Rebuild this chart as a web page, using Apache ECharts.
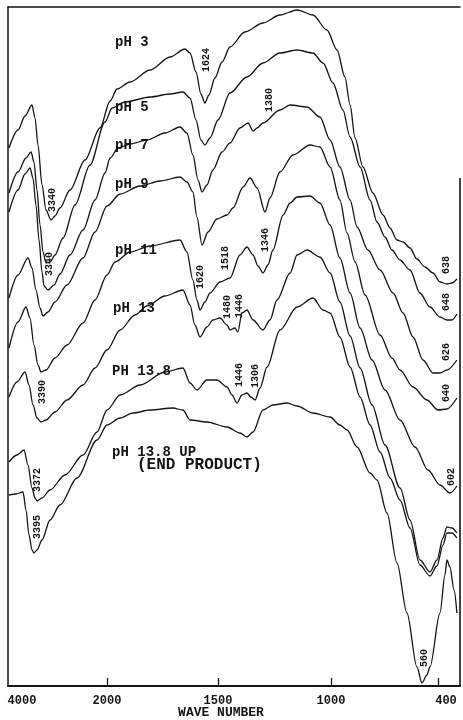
<!DOCTYPE html>
<html>
<head>
<meta charset="utf-8">
<script src="https://cdn.jsdelivr.net/npm/echarts@6/dist/echarts.min.js"></script>
<style>
  html, body { margin: 0; padding: 0; background: #fff; }
  #c { width: 463px; height: 720px; }
</style>
</head>
<body>
<div id="c"></div>
<script>
// IR spectra of the product at increasing pH, stacked with vertical offsets.
// x: wave number (cm-1); y: relative transmittance (offset units, no scale shown).

const TICKS = [4000, 2000, 1500, 1000, 400];
const TICK_MARKS = [2000, 1500, 1000, 400];

const W_PH3 = [4306,4094,3929,3765,3694,3624,3529,3435,3318,3224,3106,2871,2518,2165,1986,1955,1896,1806,1716,1649,1626,1599,1577,1559,1541,1514,1482,1447,1381,1301,1226,1150,1080,1018,966,922,893,865,821,765,708,669,630,596,557,518,473,428,389,350,322,294];
const T_PH3 = [538,556,570,581,568,541,501,476,466,470,478,496,526,558,585,597,604,616,629,637,633,614,592,583,591,608,624,639,654,663,671,676,671,656,636,609,581,548,519,493,471,458,446,444,438,427,419,413,404,402,403,407];

const W_PH5 = [4306,4094,3906,3788,3718,3647,3576,3506,3435,3341,3224,3035,2753,2400,2047,1977,1919,1806,1716,1658,1626,1599,1577,1559,1536,1500,1447,1372,1301,1226,1150,1080,1035,989,933,893,837,781,742,697,658,613,557,501,445,389,350,322,294];
const T_PH5 = [493,514,528,534,524,496,461,434,423,424,431,448,481,521,564,578,584,589,592,594,588,566,546,541,548,566,593,609,623,633,636,633,623,603,576,549,519,486,464,449,436,426,416,393,379,369,366,366,372];

const W_PH7 = [4306,4094,3929,3812,3741,3671,3600,3529,3482,3388,3247,3106,2871,2565,2282,2047,1986,1950,1896,1820,1739,1671,1640,1613,1590,1572,1550,1523,1482,1447,1403,1367,1345,1327,1301,1226,1181,1106,1049,1004,950,893,854,793,725,652,596,540,484,428,389,350,294];
const T_PH7 = [474,496,512,518,508,481,446,414,400,396,401,412,431,456,486,513,528,538,542,546,553,559,553,531,506,494,501,516,534,543,558,563,555,558,563,576,581,579,569,546,519,486,459,436,416,393,373,349,326,313,313,316,326];

const W_PH9 = [4306,4094,3859,3765,3671,3576,3506,3388,3224,2941,2565,2282,2000,1941,1851,1761,1671,1640,1613,1595,1572,1545,1505,1460,1434,1389,1358,1327,1292,1270,1226,1168,1093,1049,1004,950,910,865,809,725,658,613,540,462,400,350,294];
const T_PH9 = [388,411,428,418,396,378,370,374,384,401,428,454,480,492,500,505,509,504,494,469,441,454,467,471,478,499,508,498,474,488,514,531,541,539,519,486,453,424,391,351,328,316,299,286,276,277,288];

const W_PH11 = [4306,4094,3906,3812,3718,3624,3553,3435,3224,2941,2565,2282,2000,1964,1896,1806,1671,1640,1613,1595,1581,1559,1536,1491,1447,1403,1372,1345,1323,1301,1279,1257,1212,1181,1150,1093,1049,1004,950,893,837,770,697,613,529,456,389,333,294];
const T_PH11 = [338,364,379,368,341,321,314,316,328,341,363,386,411,424,434,440,446,434,406,386,376,384,393,404,408,431,439,431,420,413,421,436,471,483,489,490,483,461,428,393,358,326,296,266,239,216,201,193,200];

const W_PH13 = [4306,4118,3929,3835,3741,3647,3553,3435,3224,2941,2565,2282,2000,1941,1874,1820,1739,1658,1626,1604,1581,1550,1523,1491,1460,1447,1425,1412,1394,1372,1345,1301,1270,1239,1181,1150,1106,1049,1004,950,893,837,770,697,613,557,501,445,406,372,350,322,294];
const T_PH13 = [289,304,314,301,281,268,264,266,274,286,301,318,336,356,371,380,390,396,381,361,349,359,366,368,361,356,358,354,373,376,366,356,366,386,413,431,436,429,413,384,350,318,281,241,198,166,126,114,126,148,159,158,153];

const W_PH138 = [4306,4118,3953,3859,3765,3694,3647,3529,3341,2988,2565,2235,2000,1941,1851,1739,1658,1626,1595,1550,1505,1460,1438,1416,1394,1372,1354,1336,1314,1283,1226,1150,1080,1035,1004,950,893,837,781,725,669,613,557,501,445,406,372,350,322,294];
const T_PH138 = [224,231,236,221,198,188,185,188,196,211,231,254,276,291,301,314,318,303,296,306,306,299,291,283,291,293,289,286,298,319,356,379,388,376,373,349,319,289,261,234,208,186,158,121,110,120,141,153,153,148];

const W_END = [4306,4141,3976,3906,3835,3765,3718,3647,3529,3341,3106,2706,2235,2000,1941,1883,1806,1703,1658,1626,1550,1460,1403,1372,1345,1301,1257,1195,1150,1080,1004,950,910,854,781,742,686,630,574,518,490,462,445,389,361,350,333,310,294];
const T_END = [191,192,194,176,151,136,133,136,146,166,181,208,246,261,268,273,276,278,276,266,264,259,253,249,254,276,281,283,280,273,269,261,256,239,213,206,173,123,73,19,3,11,19,73,111,126,119,96,73];

const CURVES = [
  [W_PH3, T_PH3], [W_PH5, T_PH5], [W_PH7, T_PH7], [W_PH9, T_PH9],
  [W_PH11, T_PH11], [W_PH13, T_PH13], [W_PH138, T_PH138], [W_END, T_END]
];

// The chart paper uses a different scale in each wave-number band;
// map wave numbers onto a piecewise-linear plotting coordinate.
const W_KNOTS = [4000, 2000, 1500, 1000, 400];
const U_KNOTS = [14, 99, 210, 323, 430];
function toU(w) {
  let i = 0;
  if (w <= W_KNOTS[W_KNOTS.length - 1]) i = W_KNOTS.length - 2;
  else {
    while (i < W_KNOTS.length - 2 && w < W_KNOTS[i + 1]) i++;
  }
  const w0 = W_KNOTS[i], w1 = W_KNOTS[i + 1], u0 = U_KNOTS[i], u1 = U_KNOTS[i + 1];
  return u0 + (w - w0) * (u1 - u0) / (w1 - w0);
}
const U_MAX = 452;
const T_MAX = 679;

// Curve captions and band annotations, placed in (wave number, transmittance) space.
const CAPTIONS = [
  ['pH 3', 1964, 644], ['pH 5', 1964, 579], ['pH 7', 1964, 541], ['pH 9', 1964, 502],
  ['pH 11', 1964, 436], ['pH 13', 1973, 378], ['PH 13.8', 1977, 315],
  ['pH 13.8 UP', 1977, 234]
];
const BANDS = [
  ['3340', 3294, 486], ['3340', 3365, 422], ['3390', 3529, 294], ['3372', 3647, 206],
  ['3395', 3647, 159], ['1624', 1550, 626], ['1380', 1274, 586], ['1620', 1577, 409],
  ['1518', 1465, 428], ['1346', 1288, 446], ['1480', 1460, 379], ['1446', 1403, 380],
  ['1446', 1407, 311], ['1306', 1332, 310], ['638', 350, 421], ['648', 350, 384],
  ['626', 350, 334], ['640', 350, 293], ['602', 322, 209], ['560', 473, 28]
];

const INK = '#141414';

const series = CURVES.map(([ws, ts]) => ({
  type: 'line',
  data: ws.map((w, i) => [toU(w), ts[i]]),
  showSymbol: false,
  smooth: 0.3,
  smoothMonotone: 'x',
  silent: true,
  lineStyle: { color: INK, width: 1.3 },
  animation: false
}));

function tickLabel(v) {
  for (const t of TICKS) {
    if (Math.abs(toU(t) - v) < 0.01) return t === 400 ? '{s|400}' : String(t);
  }
  return '';
}

const option = {
  animation: false,
  backgroundColor: '#ffffff',
  grid: { left: 8, top: 7, width: U_MAX, height: T_MAX, containLabel: false, outerBoundsMode: 'none' },
  xAxis: [{
    type: 'value', min: 0, max: U_MAX, position: 'bottom',
    axisLine: { show: true, lineStyle: { color: INK, width: 2 } },
    axisTick: { show: true, inside: true, length: 8, customValues: TICK_MARKS.map(toU),
      lineStyle: { color: INK, width: 1.3 } },
    axisLabel: {
      show: true, customValues: TICKS.map(toU), formatter: tickLabel, margin: 9,
      color: INK, fontFamily: 'Liberation Mono', fontWeight: 'bold', fontSize: 12,
      rich: { s: { padding: [0, 0, 0, 16], color: INK, fontFamily: 'Liberation Mono', fontWeight: 'bold', fontSize: 12 } }
    },
    splitLine: { show: false },
    name: 'WAVE NUMBER', nameLocation: 'middle', nameGap: 20, nameMoveOverlap: false,
    nameTextStyle: { color: INK, fontFamily: 'Liberation Mono', fontWeight: 'bold', fontSize: 13,
      verticalAlign: 'top', padding: [0, 26, 0, 0] }
  }, {
    type: 'value', min: 0, max: U_MAX, position: 'top',
    axisLine: { show: true, lineStyle: { color: INK, width: 1.5 } },
    axisTick: { show: false }, axisLabel: { show: false }, splitLine: { show: false }
  }],
  yAxis: [{
    type: 'value', min: 0, max: T_MAX,
    axisLine: { show: true, lineStyle: { color: INK, width: 1.5 } },
    axisTick: { show: false }, axisLabel: { show: false }, splitLine: { show: false }
  }],
  series: series
};

const chart = echarts.init(document.getElementById('c'), null, { renderer: 'canvas' });
chart.setOption(option);

function px(w, t) {
  return chart.convertToPixel({ xAxisIndex: 0, yAxisIndex: 0 }, [toU(w), t]);
}

const graphics = [];
CAPTIONS.forEach(([txt, w, t]) => {
  const p = px(w, t);
  graphics.push({ type: 'text', x: p[0], y: p[1], silent: true,
    style: { text: txt, fill: INK, font: 'bold 14px "Liberation Mono"', align: 'left', verticalAlign: 'middle' } });
});
{
  const p = px(1865, 221);
  graphics.push({ type: 'text', x: p[0], y: p[1], silent: true,
    style: { text: '(END PRODUCT)', fill: INK, font: 'bold 16px "Liberation Mono"', align: 'left', verticalAlign: 'middle' } });
}
BANDS.forEach(([txt, w, t]) => {
  const p = px(w, t);
  graphics.push({ type: 'text', x: p[0], y: p[1], rotation: Math.PI / 2, silent: true,
    style: { text: txt, fill: INK, font: 'bold 10px "Liberation Mono"', align: 'center', verticalAlign: 'middle' } });
});
// right-hand frame edge, drawn only over the lower part of the chart
{
  const a = px(294, 508), b = px(294, 0);
  const xr = chart.convertToPixel({ xAxisIndex: 0 }, U_MAX);
  graphics.push({ type: 'line', silent: true, shape: { x1: xr, y1: a[1], x2: xr, y2: b[1] },
    style: { stroke: INK, lineWidth: 1.6 } });
}
chart.setOption({ graphic: graphics });
</script>
</body>
</html>
